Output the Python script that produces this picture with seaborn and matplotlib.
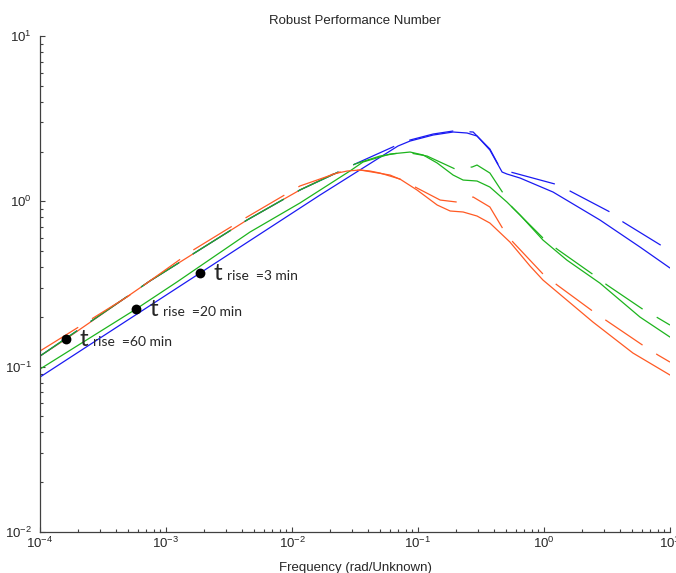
import numpy as np
import pandas as pd
import matplotlib
matplotlib.use("Agg")
import matplotlib.pyplot as plt
import seaborn as sns
from matplotlib.ticker import LogLocator, NullFormatter

# ---- data: frequency (rad/Unknown) vs robust performance number ----
# t_rise = 3 min (blue)
blue_solid_freq = [1.0e-4, 1.86e-3, 1.67e-2, 6.93e-2, 8.65e-2, 0.132, 0.190, 0.245,
                   0.294, 0.372, 0.465, 0.508, 0.646, 1.18, 2.78, 5.78, 10.0]
blue_solid_mag = [0.0865, 0.368, 1.092, 2.160, 2.316, 2.518, 2.626, 2.590,
                  2.483, 2.043, 1.504, 1.463, 1.383, 1.138, 0.771, 0.529, 0.395]

blue_dash_freq = [1.0e-4, 7.46e-4, 4.40e-3, 1.156e-2, 2.00e-2, 3.16e-2, 6.56e-2, 8.65e-2,
                  0.132, 0.190, 0.274, 0.372, 0.448, 0.508, 1.22, 1.61, 3.34, 4.24, 8.65, 10.0]
blue_dash_mag = [0.1159, 0.330, 0.771, 1.171, 1.423, 1.681, 2.160, 2.349,
                 2.554, 2.663, 2.626, 2.072, 1.590, 1.525, 1.273, 1.154, 0.862, 0.750, 0.537, 0.500]

# t_rise = 20 min (green)
green_solid_freq = [1.0e-4, 5.78e-4, 1.22e-3, 4.64e-3, 1.156e-2, 2.88e-2, 3.66e-2, 6.00e-2,
                    8.65e-2, 0.110, 0.142, 0.190, 0.228, 0.294, 0.372, 0.508, 0.646, 0.982,
                    1.52, 2.78, 5.78, 10.0]
green_solid_mag = [0.0967, 0.223, 0.325, 0.652, 0.977, 1.525, 1.729, 1.932,
                   1.987, 1.906, 1.705, 1.442, 1.345, 1.327, 1.220, 0.990, 0.826, 0.583,
                   0.441, 0.320, 0.1995, 0.151]

green_dash_freq = [1.0e-4, 7.46e-4, 4.40e-3, 1.156e-2, 2.00e-2, 3.16e-2, 4.99e-2, 7.89e-2,
                   0.118, 0.197, 0.269, 0.294, 0.372, 0.473, 0.557, 0.982, 1.27, 2.49,
                   3.16, 6.22, 8.04, 10.0]
green_dash_mag = [0.1159, 0.330, 0.771, 1.171, 1.423, 1.681, 1.879, 1.987,
                  1.879, 1.569, 1.613, 1.658, 1.483, 1.122, 0.924, 0.600, 0.514, 0.358,
                  0.312, 0.220, 0.197, 0.1785]

# t_rise = 60 min (red)
red_solid_freq = [1.0e-4, 1.607e-4, 7.46e-4, 4.40e-3, 1.156e-2, 2.11e-2, 2.74e-2, 3.47e-2,
                  4.16e-2, 4.99e-2, 7.19e-2, 9.82e-2, 0.142, 0.180, 0.228, 0.294, 0.372,
                  0.537, 0.775, 0.982, 2.45, 5.08, 10.0]
red_solid_mag = [0.1159, 0.147, 0.330, 0.771, 1.171, 1.463, 1.525, 1.547,
                 1.525, 1.483, 1.364, 1.171, 0.950, 0.874, 0.862, 0.815, 0.739,
                 0.567, 0.406, 0.334, 0.186, 0.1209, 0.0890]

red_dash_freq = [1.0e-4, 5.18e-4, 1.64e-3, 4.40e-3, 1.156e-2, 2.40e-2, 3.47e-2, 6.00e-2,
                 7.46e-2, 9.82e-2, 0.150, 0.204, 0.274, 0.372, 0.473, 0.567, 1.00, 1.27,
                 2.49, 3.16, 6.22, 8.04, 10.0]
red_dash_mag = [0.1243, 0.271, 0.507, 0.804, 1.238, 1.504, 1.547, 1.442,
                1.345, 1.204, 1.018, 0.990, 1.062, 0.924, 0.680, 0.567, 0.358, 0.312,
                0.214, 0.189, 0.1332, 0.1175, 0.1066]

# rise-time markers
marker_freq = [1.607e-4, 5.78e-4, 1.86e-3]
marker_mag = [0.147, 0.223, 0.368]
marker_text = ["rise  =60 min", "rise  =20 min", "rise  =3 min"]

x_ticks = [1e-4, 1e-3, 1e-2, 1e-1, 1e0, 1e1]
y_ticks = [1e-2, 1e-1, 1e0, 1e1]

# ---- style ----
sns.set_style("white")
plt.rcParams["font.family"] = ["Liberation Sans", "DejaVu Sans"]
plt.rcParams["mathtext.fontset"] = "custom"
plt.rcParams["mathtext.rm"] = "Liberation Sans"
plt.rcParams["axes.unicode_minus"] = False

BLUE = "#1a1af2"
GREEN = "#1db41d"
RED = "#ff5a24"
LW = 0.9
DASH = (0, (36, 13))

fig = plt.figure(figsize=(6.76, 5.73), dpi=100)
ax = fig.add_axes([40 / 676, 1 - 532 / 573, 630 / 676, 496 / 573])
ax.set_xscale("log")
ax.set_yscale("log")

series = [
    (blue_solid_freq, blue_solid_mag, BLUE, "-"),
    (green_solid_freq, green_solid_mag, GREEN, "-"),
    (red_solid_freq, red_solid_mag, RED, "-"),
    (blue_dash_freq, blue_dash_mag, BLUE, DASH),
    (green_dash_freq, green_dash_mag, GREEN, DASH),
    (red_dash_freq, red_dash_mag, RED, DASH),
]
for f, m, c, ls in series:
    sns.lineplot(x=f, y=m, ax=ax, color=c, lw=LW, linestyle=ls,
                 estimator=None, sort=False, legend=False)

sns.scatterplot(x=marker_freq, y=marker_mag, ax=ax, color="black", s=50,
                linewidth=0, zorder=5, legend=False)

for f, m, txt in zip(marker_freq, marker_mag, marker_text):
    ax.annotate("t", xy=(f, m), xytext=(10.0, -5), textcoords="offset points",
                ha="left", va="baseline", fontsize=17.5, family=["Lato", "DejaVu Sans"])
    ax.annotate(txt, xy=(f, m), xytext=(19.2, -5), textcoords="offset points",
                ha="left", va="baseline", fontsize=10, family=["Lato", "DejaVu Sans"])

ax.set_xlim(1e-4, 10)
ax.set_ylim(1e-2, 10)
ax.set_xticks(x_ticks)
ax.set_yticks(y_ticks)
ax.xaxis.set_minor_locator(LogLocator(base=10, subs=np.arange(2, 10) * 1.0, numticks=100))
ax.yaxis.set_minor_locator(LogLocator(base=10, subs=np.arange(2, 10) * 1.0, numticks=100))
ax.xaxis.set_minor_formatter(NullFormatter())
ax.yaxis.set_minor_formatter(NullFormatter())

ax.tick_params(which="both", direction="in", color="#404040", width=0.8,
               bottom=True, left=True, top=False, right=False)
ax.tick_params(which="major", length=3.6, labelsize=9.5)
ax.tick_params(which="minor", length=2)
ax.tick_params(axis="x", pad=3)
ax.tick_params(axis="y", pad=6)

for side in ("top", "right"):
    ax.spines[side].set_visible(False)
for side in ("left", "bottom"):
    ax.spines[side].set_color("#404040")
    ax.spines[side].set_linewidth(0.9)

ax.set_title("Robust Performance Number", fontsize=9.5, pad=8.5)
ax.set_xlabel("Frequency (rad/Unknown)", fontsize=9.5, labelpad=7.5)
ax.set_ylabel("")

fig.savefig("out.png", dpi=100, facecolor="white")
